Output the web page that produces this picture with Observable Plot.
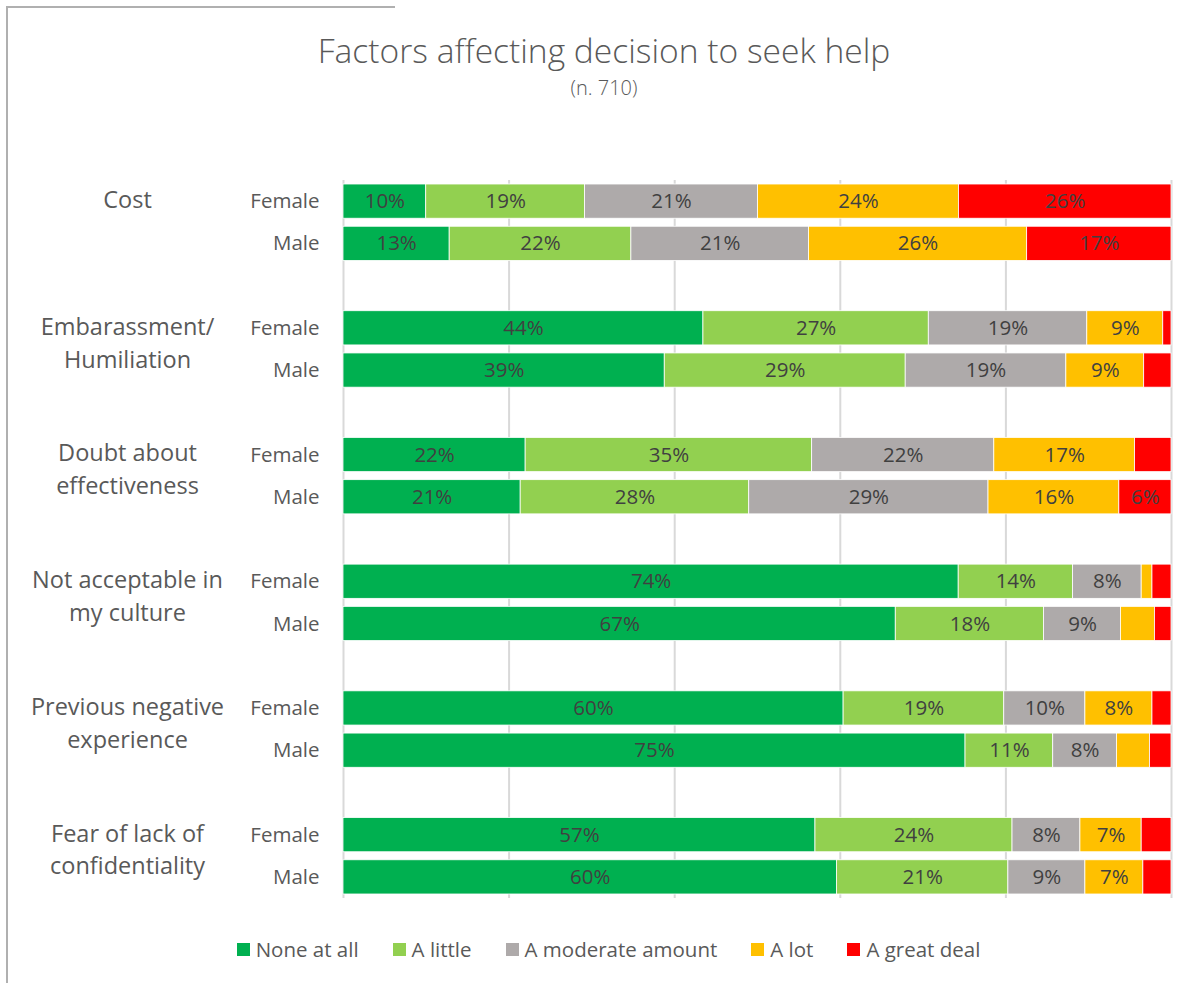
<!DOCTYPE html>
<html>
<head>
<meta charset="utf-8">
<script src="https://cdn.jsdelivr.net/npm/d3@7"></script>
<script src="https://cdn.jsdelivr.net/npm/@observablehq/plot@0.6"></script>
<style>
  body { margin: 0; background: #fff; font-family: "Open Sans", Lato, sans-serif; }
  #wrap { position: relative; width: 1195px; height: 983px; overflow: hidden; background: #fff; }
  #title { position: absolute; top: 27px; left: 0; width: 1208px; text-align: center; font-size: 33.6px; font-weight: 300; line-height: 46px; color: #595959; }
  #subtitle { position: absolute; top: 76px; left: 0; width: 1208px; text-align: center; font-size: 20px; font-weight: 300; line-height: 24px; color: #595959; }
  #chart { position: absolute; top: 0; left: 0; }
  #legend { position: absolute; top: 936px; left: 0; width: 1217px; display: flex; justify-content: center; gap: 34px; font-size: 20.5px; line-height: 26px; color: #595959; }
  .item { display: flex; align-items: center; gap: 6px; }
  .sw { width: 13px; height: 13px; display: inline-block; }
  #bt { position: absolute; top: 6px; left: 7px; width: 388px; height: 0; border-top: 2px solid #B0B0B0; }
  #bl { position: absolute; top: 6px; left: 6px; width: 0; height: 990px; border-left: 2px solid #B0B0B0; }
</style>
</head>
<body>
<div id="wrap">
  <div id="bt"></div>
  <div id="bl"></div>
  <div id="title">Factors affecting decision to seek help</div>
  <div id="subtitle">(n. 710)</div>
  <div id="chart"></div>
  <div id="legend"></div>
</div>
<script>
const categories = ["Cost", "Embarassment/\nHumiliation", "Doubt about\neffectiveness", "Not acceptable in\nmy culture", "Previous negative\nexperience", "Fear of lack of\nconfidentiality"];
const genders = ["Female", "Male"];
const levels = ["None at all", "A little", "A moderate amount", "A lot", "A great deal"];
const levelColors = ["#00B050", "#92D050", "#AEAAAA", "#FFC000", "#FF0000"];
// Values per row: Cost F, Cost M, Embarassment F, M, Doubt F, M, Not acceptable F, M, Previous F, M, Fear F, M
const noneAtAll      = [10.0, 12.8, 43.6, 38.8, 22.0, 21.4, 74.3, 66.7, 60.4, 75.2, 57.0, 59.6];
const aLittle        = [19.2, 21.9, 27.3, 29.1, 34.6, 27.6, 13.8, 17.9, 19.4, 10.6, 23.8, 20.7];
const aModerateAmount= [20.9, 21.4, 19.2, 19.4, 22.0, 28.9,  8.3,  9.3,  9.8,  7.7,  8.2,  9.3];
const aLot           = [24.3, 26.3,  9.2,  9.4, 17.0, 15.8,  1.3,  4.1,  8.1,  4.0,  7.4,  7.0];
const aGreatDeal     = [25.7, 17.4,  1.0,  3.3,  4.4,  6.3,  2.3,  2.0,  2.3,  2.6,  3.6,  3.4];
const xTicks = [0, 20, 40, 60, 80, 100];

const series = [noneAtAll, aLittle, aModerateAmount, aLot, aGreatDeal];

const yDomain = [];
categories.forEach((c, ci) => {
  genders.forEach(g => yDomain.push(`${ci}|${g}`));
  if (ci < categories.length - 1) yDomain.push(`${ci}|gap`);
});

const data = [];
for (let i = 0; i < categories.length * genders.length; i++) {
  const ci = Math.floor(i / 2);
  const g = genders[i % 2];
  levels.forEach((lv, j) => {
    data.push({key: `${ci}|${g}`, level: lv, value: series[j][i]});
  });
}

const labelColor = "#404040";
const font = "'Open Sans', Lato, sans-serif";

const chart = Plot.plot({
  width: 1195,
  height: 920,
  marginTop: 180,
  marginBottom: 22,
  marginLeft: 343,
  marginRight: 24,
  style: {fontFamily: font, color: "#595959", background: "transparent"},
  x: {domain: [0, 1], axis: null},
  y: {domain: yDomain, paddingInner: 0.19, paddingOuter: 0.095, round: false, axis: null},
  color: {domain: levels, range: levelColors},
  marks: [
    Plot.ruleX(xTicks.map(t => t / 100), {stroke: "#D9D9D9", strokeWidth: 2}),
    Plot.barX(data, Plot.stackX({x: "value", y: "key", fill: "level", offset: "normalize", stroke: "white", strokeWidth: 0.8})),
    Plot.text(data, Plot.stackX({
      x: "value", y: "key", z: "level", offset: "normalize",
      text: d => d.value >= 5 ? Math.round(d.value) + "%" : "",
      fill: labelColor, fontSize: 20.5
    })),
    Plot.axisY({
      label: null,
      tickSize: 0, tickPadding: 24, fontSize: 20.5,
      tickFormat: k => { const g = k.split("|")[1]; return g === "gap" ? "" : g; }
    }),
    Plot.text(categories, {
      y: (d, i) => `${i}|Female`,
      text: d => d,
      frameAnchor: "left",
      dx: -216, dy: -17,
      textAnchor: "middle",
      lineAnchor: "top",
      lineHeight: 1.4,
      fontSize: 23.5,
      fill: "#595959"
    })
  ]
});
document.getElementById("chart").appendChild(chart);

const legend = document.getElementById("legend");
levels.forEach((lv, j) => {
  const item = document.createElement("div");
  item.className = "item";
  const sw = document.createElement("span");
  sw.className = "sw";
  sw.style.background = levelColors[j];
  const t = document.createElement("span");
  t.textContent = lv;
  item.appendChild(sw);
  item.appendChild(t);
  legend.appendChild(item);
});
</script>
</body>
</html>
